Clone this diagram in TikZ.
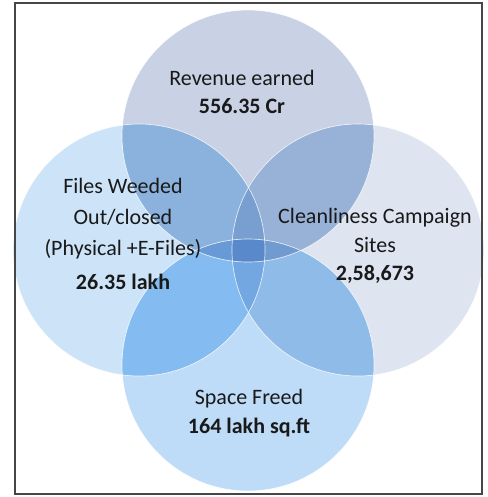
\documentclass[tikz,border=0pt]{standalone}
\usepackage{fontspec}
\setmainfont{Carlito}
\usetikzlibrary{positioning}
\definecolor{revFill}{RGB}{200,210,228}
\definecolor{filesFill}{RGB}{205,228,248}
\definecolor{cleanFill}{RGB}{222,228,240}
\definecolor{spaceFill}{RGB}{190,220,248}
\definecolor{overlapTint}{RGB}{222,244,255}
\definecolor{frameGray}{RGB}{70,70,70}
\definecolor{textDark}{RGB}{25,25,25}
\tikzset{
  venn/.style={circle, minimum size=189pt, inner sep=0pt, draw=none},
  rim/.style={circle, minimum size=189pt, inner sep=0pt, draw=white, line width=0.5pt, draw opacity=0.8},
  lbl/.style={align=center, text=textDark, inner sep=0pt,
              font=\fontsize{16.5}{21.5}\selectfont},
  frame/.style={draw=frameGray, line width=1.1pt}
}
\begin{document}
\begin{tikzpicture}[x=0.75pt, y=-0.75pt]
\useasboundingbox (0,0) rectangle (488,497);
% four sets, overlaps darken each other
\begin{scope}[blend group=multiply]
\node[venn, fill=revFill] (rev) at (248,136) {};
\node[venn, fill=filesFill] (files) at (139,250) {};
\node[venn, fill=cleanFill] (clean) at (358,250) {};
\node[venn, fill=spaceFill] (space) at (248,365) {};
% extra blue where two or more sets meet
\begin{scope}[transparency group]
\foreach \a/\b in {rev/files, rev/clean, rev/space, files/clean, files/space, clean/space}{
  \begin{scope}
    \clip (\a) circle (94.5pt);
    \fill[overlapTint] (\b) circle (94.5pt);
  \end{scope}
}
\end{scope}
\end{scope}
\node[rim] at (rev) {};
\node[rim] at (files) {};
\node[rim] at (clean) {};
\node[rim] at (space) {};
% labels
\node[lbl] (revTxt) at (242,92) {Revenue earned\\\textbf{556.35 Cr}};
\node[lbl, font=\fontsize{16.5}{23.5}\selectfont] (filesTxt) at (123,234)
  {Files Weeded\\Out/closed\\(Physical +E-Files)\\[2pt]\textbf{26.35 lakh}};
\node[lbl] (cleanTxt) at (375,246) {Cleanliness Campaign\\Sites\\\textbf{2,58,673}};
\node[lbl] (spaceTxt) at (249,413) {Space Freed\\\textbf{164 lakh sq.ft}};
\draw[frame] (15,3) rectangle (482,494);
\end{tikzpicture}
\end{document}
